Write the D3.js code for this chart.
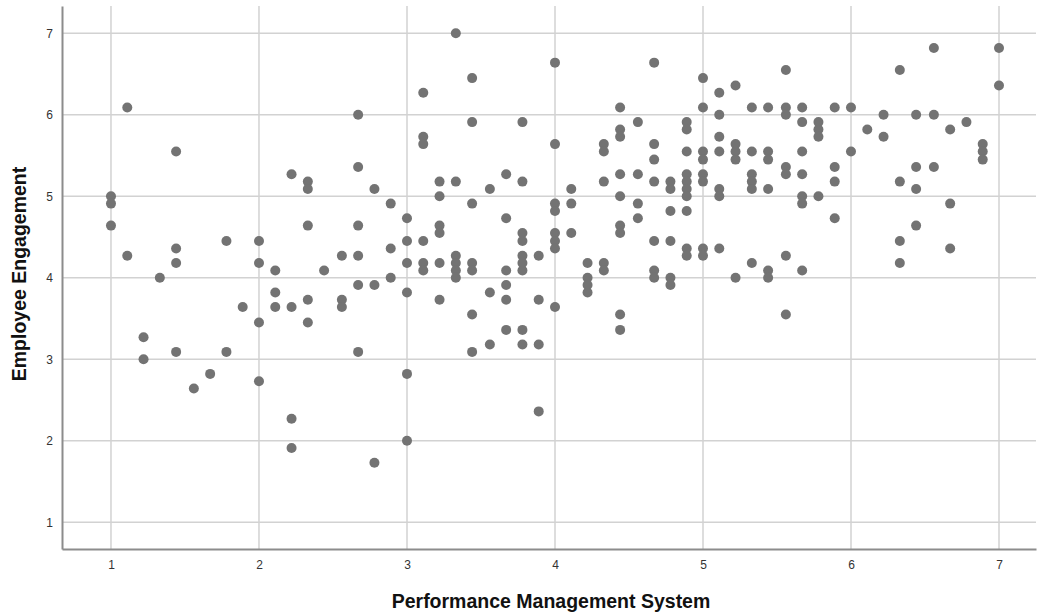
<!DOCTYPE html>
<html>
<head>
<meta charset="utf-8">
<script src="https://cdn.jsdelivr.net/npm/d3@7"></script>
<style>
  html, body { margin: 0; padding: 0; background: #fff; }
  svg { display: block; font-family: "Liberation Sans", Arial, sans-serif; }
</style>
</head>
<body>
<svg id="chart" width="1038" height="614"></svg>
<script>
// Performance Management System score levels (x) and the Employee Engagement
// scores (y) observed at each level.
const pmsLevels = [
  1.00, 1.11, 1.22, 1.33, 1.44, 1.56, 1.67, 1.78, 1.89,
  2.00, 2.11, 2.22, 2.33, 2.44, 2.56, 2.67, 2.78, 2.89,
  3.00, 3.11, 3.22, 3.33, 3.44, 3.56, 3.67, 3.78, 3.89,
  4.00, 4.11, 4.22, 4.33, 4.44, 4.56, 4.67, 4.78, 4.89,
  5.00, 5.11, 5.22, 5.33, 5.44, 5.56, 5.67, 5.78, 5.89,
  6.00, 6.11, 6.22, 6.33, 6.44, 6.56, 6.67, 6.78, 6.89,
  7.00
];
const engagementScores = [
  [5.00, 4.91, 4.64],
  [6.09, 4.27],
  [3.27, 3.00],
  [4.00],
  [5.55, 4.36, 4.18, 3.09],
  [2.64],
  [2.82],
  [4.45, 3.09],
  [3.64],
  [4.45, 4.18, 3.45, 2.73],
  [4.09, 3.82, 3.64],
  [5.27, 3.64, 2.27, 1.91],
  [5.18, 5.09, 4.64, 3.73, 3.45],
  [4.09],
  [4.27, 3.73, 3.64],
  [6.00, 5.36, 4.64, 4.27, 3.91, 3.09],
  [5.09, 3.91, 1.73],
  [4.91, 4.36, 4.00],
  [4.73, 4.45, 4.18, 3.82, 2.82, 2.00],
  [6.27, 5.73, 5.64, 4.45, 4.18, 4.09],
  [5.18, 5.00, 4.64, 4.55, 4.18, 3.73],
  [7.00, 5.18, 4.27, 4.18, 4.09, 4.00],
  [6.45, 5.91, 4.91, 4.18, 4.09, 3.55, 3.09],
  [5.09, 3.82, 3.18],
  [5.27, 4.73, 4.09, 3.91, 3.73, 3.36],
  [5.91, 5.18, 4.55, 4.45, 4.27, 4.18, 4.09, 3.36, 3.18],
  [4.27, 3.73, 3.18, 2.36],
  [6.64, 5.64, 4.91, 4.82, 4.55, 4.45, 4.36, 3.64],
  [5.09, 4.91, 4.55],
  [4.18, 4.00, 3.91, 3.82],
  [5.64, 5.55, 5.18, 4.18, 4.09],
  [6.09, 5.82, 5.73, 5.27, 5.00, 4.64, 4.55, 3.55, 3.36],
  [5.91, 5.27, 4.91, 4.73],
  [6.64, 5.64, 5.45, 5.18, 4.45, 4.09, 4.00],
  [5.18, 5.09, 4.82, 4.45, 4.00, 3.91],
  [5.91, 5.82, 5.55, 5.27, 5.18, 5.09, 5.00, 4.82, 4.36, 4.27],
  [6.45, 6.09, 5.55, 5.45, 5.27, 5.18, 4.36, 4.27],
  [6.27, 6.00, 5.73, 5.55, 5.09, 5.00, 4.36],
  [6.36, 5.64, 5.55, 5.45, 4.00],
  [6.09, 5.55, 5.27, 5.18, 5.09, 4.18],
  [6.09, 5.55, 5.45, 5.09, 4.09, 4.00],
  [6.55, 6.09, 6.00, 5.36, 5.27, 4.27, 3.55],
  [6.09, 5.91, 5.55, 5.27, 5.00, 4.91, 4.09],
  [5.91, 5.82, 5.73, 5.00],
  [6.09, 5.36, 5.18, 4.73],
  [6.09, 5.55],
  [5.82],
  [6.00, 5.73],
  [6.55, 5.18, 4.45, 4.18],
  [6.00, 5.36, 5.09, 4.64],
  [6.82, 6.00, 5.36],
  [5.82, 4.91, 4.36],
  [5.91],
  [5.64, 5.55, 5.45],
  [6.82, 6.36]
];
const xTicks = [1, 2, 3, 4, 5, 6, 7];
const yTicks = [1, 2, 3, 4, 5, 6, 7];
const xTitle = "Performance Management System";
const yTitle = "Employee Engagement";

const points = pmsLevels.flatMap((x, i) => engagementScores[i].map(y => ({ x, y })));

const svg = d3.select("#chart");
const plot = { left: 62, right: 1036, top: 6, bottom: 549 };

const x = d3.scaleLinear().domain([0.669, 7.25]).range([plot.left, plot.right]);
const y = d3.scaleLinear().domain([0.671, 7.335]).range([plot.bottom, plot.top]);

// Grid lines
const grid = svg.append("g").attr("class", "grid");
grid.selectAll("line.gx").data(xTicks).join("line")
  .attr("class", "gx")
  .attr("x1", d => x(d)).attr("x2", d => x(d))
  .attr("y1", plot.top).attr("y2", plot.bottom)
  .attr("stroke", "#d2d2d2").attr("stroke-width", 1.5);
grid.selectAll("line.gy").data(yTicks).join("line")
  .attr("class", "gy")
  .attr("x1", plot.left).attr("x2", plot.right)
  .attr("y1", d => y(d)).attr("y2", d => y(d))
  .attr("stroke", "#d2d2d2").attr("stroke-width", 1.5);

// Axes
const xAxis = d3.axisBottom(x).tickValues(xTicks).tickSize(0).tickPadding(11).tickFormat(d3.format("d"));
const yAxis = d3.axisLeft(y).tickValues(yTicks).tickSize(0).tickPadding(9).tickFormat(d3.format("d"));

const gx = svg.append("g").attr("transform", `translate(0,${plot.bottom})`).call(xAxis);
const gy = svg.append("g").attr("transform", `translate(${plot.left},0)`).call(yAxis);

[gx, gy].forEach(g => {
  g.select(".domain").attr("stroke", "#8c8c8c").attr("stroke-width", 2);
  g.selectAll("text")
    .attr("fill", "#333")
    .style("font-size", "12px")
    .style("font-family", "'Liberation Sans', Arial, sans-serif");
});

// Points
svg.append("g").selectAll("circle").data(points).join("circle")
  .attr("cx", d => x(d.x))
  .attr("cy", d => y(d.y))
  .attr("r", 5)
  .attr("fill", "#737373");

// Axis titles
svg.append("text")
  .attr("x", 551).attr("y", 608)
  .attr("text-anchor", "middle")
  .style("font-size", "19.5px").style("font-weight", "bold")
  .attr("fill", "#111")
  .text(xTitle);

svg.append("text")
  .attr("transform", "translate(26,274) rotate(-90)")
  .attr("text-anchor", "middle")
  .style("font-size", "19.5px").style("font-weight", "bold")
  .attr("fill", "#111")
  .text(yTitle);
</script>
</body>
</html>
